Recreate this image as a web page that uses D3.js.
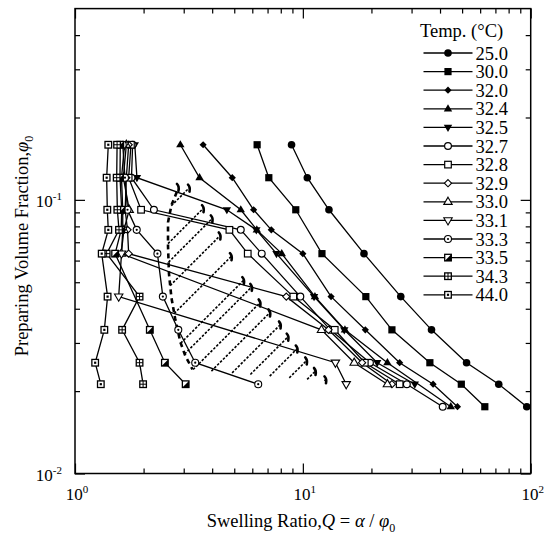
<!DOCTYPE html>
<html>
<head>
<meta charset="utf-8">
<script src="https://cdn.jsdelivr.net/npm/d3@7"></script>
<style>
  body { margin: 0; background: #fff; }
  svg text { font-family: "Liberation Serif", "Times New Roman", serif; fill: #000; }
</style>
</head>
<body>
<div id="chart"></div>
<script>
// ### DATA ###
// preparing volume fractions (rows shared by the series)
const phi0 = [0.159, 0.1205, 0.092, 0.0777, 0.0636, 0.0443, 0.0335, 0.0254, 0.0212, 0.01754];

// swelling ratio Q for each temperature, one value per phi0 row (null = no point)
const q25_0 = [8.92, 10.46, 13.02, null, 18.55, 26.9, 36.7, 52.3, 72.4, 96.1];
const q30_0 = [6.30, 7.09, 9.31, null, 12.13, 18.9, 24.6, 36.1, 49.6, 62.9];
const q32_0 = [3.65, 4.90, 6.08, 7.27, 10.0, 13.3, 18.8, 26.6, 37.3, 47.7];
const q32_4 = [2.90, 3.52, 5.34, 6.28, 8.08, 11.3, 15.3, 23.5, null, 44.6];
const q32_5 = [1.83, 1.87, 4.64, 6.25, 7.66, 11.2, 15.2, 21.2, 31.0, null];
const q32_7 = [1.79, 1.77, 2.22, 5.34, 6.60, 9.75, 13.2, 19.7, 28.6, 41.1];
const q32_8 = [1.76, 1.72, 1.95, 4.76, 5.73, 9.08, 13.8, 18.7, 26.6, null];
const q32_9 = [1.72, 1.68, 1.66, 1.70, 1.72, 8.46, 12.96, 18.2, 24.6, null];
const q33_0 = [1.68, 1.63, 1.73, 1.64, 1.595, null, 12.07, 16.8, 23.5, null];
const q33_1 = [1.65, 1.60, 1.62, 1.62, 1.60, 1.555, null, 13.9, 15.5, null];
const q33_3 = [1.62, 1.657, 1.70, 1.866, 2.30, 2.43, 2.84, 3.37, 6.37, null];
const q33_5 = [1.58, 1.576, 1.603, 1.595, 1.50, null, 2.13, 2.48, 3.06, null];
const q34_3 = [1.53, 1.524, 1.534, 1.56, 1.377, 1.92, 1.61, 1.92, 1.99, null];
const q44_0 = [1.40, 1.377, 1.386, 1.40, 1.31, 1.39, 1.345, 1.226, 1.298, null];

const temps = ['25.0', '30.0', '32.0', '32.4', '32.5', '32.7', '32.8', '32.9', '33.0', '33.1', '33.3', '33.5', '34.3', '44.0'];
const seriesQ = [q25_0, q30_0, q32_0, q32_4, q32_5, q32_7, q32_8, q32_9, q33_0, q33_1, q33_3, q33_5, q34_3, q44_0];

// hatched region: dashed left edge, bottom edge and the ends of the hatch strokes [Q, phi0]
const hatchEdge = [[2.80, 0.107], [2.65, 0.0956], [2.56, 0.0828], [2.56, 0.0677], [2.585, 0.0537],
  [2.65, 0.0439], [2.75, 0.0369], [2.90, 0.0302], [3.05, 0.0269], [3.28, 0.0240], [12.5, 0.0218]];
const hatchEnds = [[2.83, 0.1111], [3.165, 0.1104], [3.646, 0.0929], [3.985, 0.0852], [4.32, 0.0738],
  [4.838, 0.0620], [5.48, 0.0507], [5.939, 0.0479], [6.466, 0.0420], [7.14, 0.0386], [7.94, 0.0349],
  [8.582, 0.0315], [9.408, 0.0285], [10.35, 0.0258], [11.31, 0.0236], [12.57, 0.0220]];

const xTicksMajor = [1, 10, 100];
const xTickExp = ['0', '1', '2'];
const yTicksMajor = [0.01, 0.1];
const yTickExp = ['-2', '-1'];

// ### LAYOUT ###
const width = 548;
const height = 538;
const plot = { left: 75, right: 530.7, top: 8.6, bottom: 473.5 };

const svg = d3.select('#chart').append('svg')
  .attr('width', width)
  .attr('height', height);

const x = d3.scaleLog().domain([1, 100]).range([plot.left, plot.right]);
const y = d3.scaleLog().domain([0.01, 0.5]).range([plot.bottom, plot.top]);

// marker style per temperature (same order as temps)
const markerKinds = ['circleF', 'squareF', 'diamondF', 'triUpF', 'triDownF', 'circleO', 'squareO',
  'diamondO', 'triUpO', 'triDownO', 'circleDot', 'squareHalf', 'squareCross', 'squareDot'];

// ### HATCHED REGION ###
const hatch = svg.append('g');
const edgePx = hatchEdge.map(d => [x(d[0]), y(d[1])]);

// thick dashed left edge (bottom edge is not drawn)
hatch.append('path')
  .attr('d', d3.line()(edgePx.slice(0, edgePx.length - 1)))
  .attr('fill', 'none')
  .attr('stroke', '#000')
  .attr('stroke-width', 2.6)
  .attr('stroke-dasharray', '5,4');

// each stroke runs down-left from its end until it meets the edge
function hitEdge(ex, ey, dx, dy) {
  let best = null;
  for (let i = 0; i < edgePx.length - 1; i++) {
    const [ax, ay] = edgePx[i];
    const [bx, by] = edgePx[i + 1];
    const sx = bx - ax, sy = by - ay;
    const den = dx * sy - dy * sx;
    if (Math.abs(den) < 1e-9) continue;
    const t = ((ax - ex) * sy - (ay - ey) * sx) / den;
    const s = ((ax - ex) * dy - (ay - ey) * dx) / den;
    if (t > 0 && s >= 0 && s <= 1 && (best === null || t < best)) best = t;
  }
  return best === null ? null : [ex + best * dx, ey + best * dy];
}

hatchEnds.forEach(d => {
  const ex = x(d[0]), ey = y(d[1]);
  const p = hitEdge(ex, ey, -1, 1);
  if (p) {
    hatch.append('line')
      .attr('x1', p[0]).attr('y1', p[1])
      .attr('x2', ex).attr('y2', ey)
      .attr('stroke', '#000')
      .attr('stroke-width', 1.6)
      .attr('stroke-dasharray', '2.5,1.6');
  }
  //--- thick hook at the upper end
  hatch.append('path')
    .attr('d', `M${ex - 1},${ey - 3.5} Q${ex + 1.5},${ey - 1} ${ex + 0.5},${ey + 3.5}`)
    .attr('fill', 'none')
    .attr('stroke', '#000')
    .attr('stroke-width', 2.6)
    .attr('stroke-linecap', 'round');
});

// ### SERIES ###
const line = d3.line()
  .defined(d => d[0] !== null)
  .x(d => x(d[0]))
  .y(d => y(d[1]));

const seriesPts = seriesQ.map(qs => qs.map((q, i) => [q, phi0[i]]).filter(d => d[0] !== null));

svg.append('g').selectAll('path')
  .data(seriesPts)
  .enter()
  .append('path')
  .attr('d', d => line(d))
  .attr('fill', 'none')
  .attr('stroke', '#000')
  .attr('stroke-width', 1.3);

function drawMarker(g, kind) {
  const blk = '#000';
  const tri = 'M0,-4.6 L4.2,2.6 L-4.2,2.6 Z';
  const triD = 'M0,4.6 L4.2,-2.6 L-4.2,-2.6 Z';
  const dia = 'M0,-3.6 L3.6,0 L0,3.6 L-3.6,0 Z';
  const sq = 3.3;
  switch (kind) {
    case 'circleF': g.append('circle').attr('r', 3.8).attr('fill', blk); break;
    case 'squareF': g.append('rect').attr('x', -3.6).attr('y', -3.6).attr('width', 7.2).attr('height', 7.2).attr('fill', blk); break;
    case 'diamondF': g.append('path').attr('d', dia).attr('fill', blk); break;
    case 'triUpF': g.append('path').attr('d', tri).attr('fill', blk); break;
    case 'triDownF': g.append('path').attr('d', triD).attr('fill', blk); break;
    case 'circleO': g.append('circle').attr('r', 3.4).attr('fill', '#fff').attr('stroke', blk).attr('stroke-width', 1.2); break;
    case 'squareO': g.append('rect').attr('x', -sq).attr('y', -sq).attr('width', 2 * sq).attr('height', 2 * sq)
      .attr('fill', '#fff').attr('stroke', blk).attr('stroke-width', 1.2); break;
    case 'diamondO': g.append('path').attr('d', dia).attr('fill', '#fff').attr('stroke', blk).attr('stroke-width', 1.1); break;
    case 'triUpO': g.append('path').attr('d', tri).attr('fill', '#fff').attr('stroke', blk).attr('stroke-width', 1.1); break;
    case 'triDownO': g.append('path').attr('d', triD).attr('fill', '#fff').attr('stroke', blk).attr('stroke-width', 1.1); break;
    case 'circleDot':
      g.append('circle').attr('r', 3.5).attr('fill', '#fff').attr('stroke', blk).attr('stroke-width', 1.1);
      g.append('circle').attr('r', 1.1).attr('fill', blk);
      break;
    default: {
      g.append('rect').attr('x', -sq).attr('y', -sq).attr('width', 2 * sq).attr('height', 2 * sq)
        .attr('fill', '#fff').attr('stroke', blk).attr('stroke-width', 1.3);
      if (kind === 'squareHalf') {
        g.append('path').attr('d', `M${sq},${-sq} L${sq},${sq} L${-sq},${sq} Z`).attr('fill', blk);
      } else if (kind === 'squareCross') {
        g.append('path').attr('d', `M0,${-sq} V${sq} M${-sq},0 H${sq}`).attr('stroke', blk).attr('stroke-width', 1);
      } else {
        g.append('rect').attr('x', -1.1).attr('y', -1.1).attr('width', 2.2).attr('height', 2.2).attr('fill', blk);
      }
    }
  }
}

seriesPts.forEach((pts, si) => {
  pts.forEach(d => {
    const g = svg.append('g').attr('transform', `translate(${x(d[0])},${y(d[1])})`);
    drawMarker(g, markerKinds[si]);
  });
});

// ### AXES (ticks point inward on all four sides) ###
const xMinor = x.ticks().filter(v => !xTicksMajor.includes(v));
const yMinor = y.ticks().filter(v => !yTicksMajor.includes(v) && v < 0.5);

function tickSet(axis, pos, vals, size) {
  svg.append('g')
    .attr('transform', pos)
    .call(axis.tickValues(vals).tickSizeInner(size).tickSizeOuter(0).tickFormat(''))
    .call(g => g.select('.domain').remove())
    .selectAll('line')
    .attr('stroke', '#000')
    .attr('stroke-width', 1.2);
}

tickSet(d3.axisBottom(x), `translate(0,${plot.bottom})`, xTicksMajor, -10);
tickSet(d3.axisBottom(x), `translate(0,${plot.bottom})`, xMinor, -5);
tickSet(d3.axisTop(x), `translate(0,${plot.top})`, xTicksMajor, -10);
tickSet(d3.axisTop(x), `translate(0,${plot.top})`, xMinor, -5);
tickSet(d3.axisLeft(y), `translate(${plot.left},0)`, yTicksMajor, -10);
tickSet(d3.axisLeft(y), `translate(${plot.left},0)`, yMinor, -5);
tickSet(d3.axisRight(y), `translate(${plot.right},0)`, yTicksMajor, -10);
tickSet(d3.axisRight(y), `translate(${plot.right},0)`, yMinor, -5);

svg.append('rect')
  .attr('x', plot.left).attr('y', plot.top)
  .attr('width', plot.right - plot.left).attr('height', plot.bottom - plot.top)
  .attr('fill', 'none')
  .attr('stroke', '#000')
  .attr('stroke-width', 1.5);

// tick labels as powers of ten
xTicksMajor.forEach((v, i) => {
  const t = svg.append('text')
    .attr('x', x(v) + 2)
    .attr('y', 500)
    .attr('text-anchor', 'middle')
    .style('font-size', '17px')
    .text('10');
  t.append('tspan').attr('dy', -7).style('font-size', '11px').text(xTickExp[i]);
});

yTicksMajor.forEach((v, i) => {
  const t = svg.append('text')
    .attr('x', 62)
    .attr('y', y(v) + 7)
    .attr('text-anchor', 'end')
    .style('font-size', '17px')
    .text('10');
  t.append('tspan').attr('dy', -7).style('font-size', '11px').text(yTickExp[i]);
});

// axis titles
const xTitle = svg.append('text')
  .attr('x', 301)
  .attr('y', 527)
  .attr('text-anchor', 'middle')
  .style('font-size', '18.5px')
  .text('Swelling Ratio,');
xTitle.append('tspan').style('font-style', 'italic').text('Q');
xTitle.append('tspan').text(' = ');
xTitle.append('tspan').style('font-style', 'italic').text('α');
xTitle.append('tspan').text(' / ');
xTitle.append('tspan').style('font-style', 'italic').text('φ');
xTitle.append('tspan').attr('dy', 5).style('font-size', '12px').text('0');

const yTitle = svg.append('text')
  .attr('transform', 'translate(28,246) rotate(-90)')
  .attr('text-anchor', 'middle')
  .style('font-size', '18.5px')
  .text('Preparing Volume Fraction,');
yTitle.append('tspan').style('font-style', 'italic').text('φ');
yTitle.append('tspan').attr('dy', 5).style('font-size', '12px').text('0');

// ### LEGEND ###
const legend = svg.append('g');
legend.append('text')
  .attr('x', 420)
  .attr('y', 37)
  .style('font-size', '18.5px')
  .text('Temp. (°C)');

temps.forEach((t, i) => {
  const ly = 53 + i * 18.6;
  legend.append('line')
    .attr('x1', 423.5).attr('x2', 472.5)
    .attr('y1', ly).attr('y2', ly)
    .attr('stroke', '#000')
    .attr('stroke-width', 1.3);
  drawMarker(legend.append('g').attr('transform', `translate(448,${ly})`), markerKinds[i]);
  legend.append('text')
    .attr('x', 475.5)
    .attr('y', ly + 6.5)
    .style('font-size', '18.5px')
    .text(t);
});
</script>
</body>
</html>
